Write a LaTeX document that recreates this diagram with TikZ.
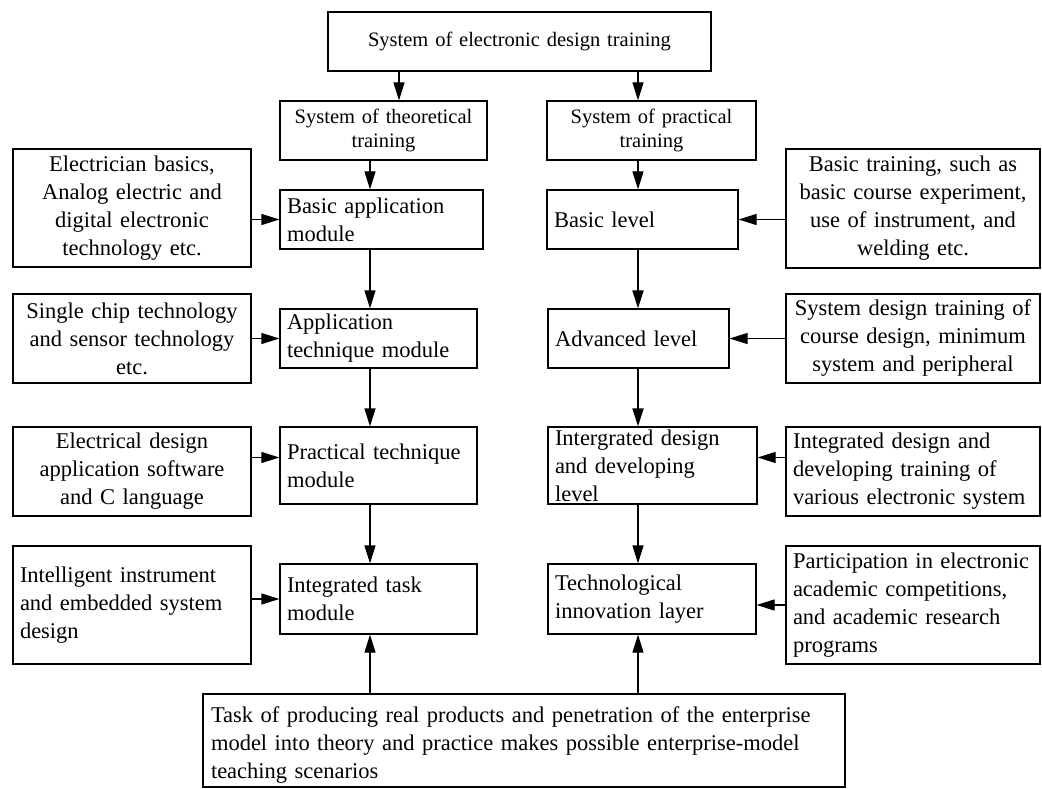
\documentclass[tikz,border=0pt]{standalone}
\usepackage{fontspec}
\setmainfont{Liberation Serif}
\usetikzlibrary{arrows.meta}
\begin{document}
\begin{tikzpicture}[x=1pt,y=-1pt,
  box/.style={draw, line width=1.2pt, inner xsep=7pt, inner ysep=0pt, font=\fontsize{22.5}{28}\selectfont},
  sbox/.style={box, font=\fontsize{20.5}{24.5}\selectfont, align=center},
  arr/.style={line width=1.2pt, -{Triangle[length=18pt,width=11pt]}},
  thick arr/.style={arr, line width=1.9pt},
]
\useasboundingbox (0,0) rectangle (1042,789);
\coordinate (colL) at (370,0);
\coordinate (colR) at (638,0);

% top and system boxes
\node[sbox, minimum width=383pt, minimum height=59pt, text width=369pt] (top) at (519.5,41.5) {System of electronic design training};
\node[sbox, minimum width=207pt, minimum height=59pt, text width=193pt] (theo) at (383.5,130.5) {System of theoretical\\training};
\node[sbox, minimum width=209pt, minimum height=59pt, text width=195pt] (prac) at (651.5,130.5) {System of practical\\training};

% left column modules
\node[box, align=left, minimum width=203pt, minimum height=59pt, text width=189pt] (basicapp) at (381.5,219.5) {Basic application\\module};
\node[box, align=left, minimum width=197pt, minimum height=59pt, text width=183pt] (apptech) at (378.5,338.5) {Application\\technique module};
\node[box, align=left, minimum width=197pt, minimum height=77pt, text width=183pt] (practech) at (378.5,465.5) {Practical technique\\module};
\node[box, align=left, minimum width=197pt, minimum height=70pt, text width=183pt] (inttask) at (378.5,599) {Integrated task\\module};

% left side inputs
\node[box, align=center, minimum width=238pt, minimum height=118pt, text width=224pt] (elec) at (132,208) {Electrician basics,\\Analog electric and\\digital electronic\\technology etc.};
\node[box, align=center, minimum width=238pt, minimum height=89pt, text width=224pt] (single) at (132,338.5) {Single chip technology\\and sensor technology\\etc.};
\node[box, align=center, minimum width=238pt, minimum height=89pt, text width=224pt] (elecdes) at (132,471.5) {Electrical design\\application software\\and C language};
\node[box, align=left, minimum width=238pt, minimum height=118pt, text width=224pt] (intell) at (132,605) {Intelligent instrument\\and embedded system\\design};

% right column levels
\node[box, align=left, minimum width=191pt, minimum height=59pt, text width=177pt] (basiclevel) at (642.5,219.5) {Basic level};
\node[box, align=left, minimum width=181pt, minimum height=59pt, text width=167pt] (adv) at (638.5,338.5) {Advanced level};
\node[box, align=left, minimum width=209pt, minimum height=77pt, text width=195pt] (intdev) at (652.5,465.5) {Intergrated design\\and developing\\level};
\node[box, align=left, minimum width=208pt, minimum height=70pt, text width=194pt] (techinn) at (652,599) {Technological\\innovation layer};

% right side inputs
\node[box, align=center, minimum width=254pt, minimum height=119pt, text width=240pt] (basictrain) at (913,208.5) {Basic training, such as\\basic course experiment,\\use of instrument, and\\welding etc.};
\node[box, align=center, minimum width=254pt, minimum height=89pt, text width=240pt] (sysdes) at (913,338.5) {\mbox{System design training of}\\course design, minimum\\system and peripheral};
\node[box, align=left, minimum width=254pt, minimum height=89pt, text width=240pt] (intdes) at (913,471.5) {Integrated design and\\developing training of\\\mbox{various electronic system}};
\node[box, align=left, minimum width=254pt, minimum height=118pt, text width=240pt] (partic) at (913,605) {\mbox{Participation in electronic}\\academic competitions,\\and academic research\\programs};

% bottom
\node[box, align=left, minimum width=642pt, minimum height=93pt, text width=626pt] (bot) at (524,740.5) {\rule{0pt}{25.5pt}Task of producing real products and penetration of the enterprise\\model into theory and practice makes possible enterprise-model\\teaching scenarios};

% helper points
\coordinate (ptin) at ([yshift=8pt]practech.west);
\coordinate (idin) at ([yshift=8pt]intdev.east);

% connectors
\draw[arr] ([xshift=-120.5pt]top.south) -- ([xshift=-120.5pt]top.south |- theo.north);
\draw[arr] ([xshift=118.5pt]top.south) -- ([xshift=118.5pt]top.south |- prac.north);

\draw[arr] (theo.south -| colL) -- (basicapp.north -| colL);
\draw[arr] (basicapp.south -| colL) -- (apptech.north -| colL);
\draw[arr] (apptech.south -| colL) -- (practech.north -| colL);
\draw[arr] (practech.south -| colL) -- (inttask.north -| colL);
\draw[arr] (bot.north -| colL) -- (inttask.south -| colL);

\draw[arr] (prac.south -| colR) -- (basiclevel.north -| colR);
\draw[thick arr] (basiclevel.south -| colR) -- (adv.north -| colR);
\draw[thick arr] (adv.south -| colR) -- (intdev.north -| colR);
\draw[arr] (intdev.south -| colR) -- (techinn.north -| colR);
\draw[arr] (bot.north -| colR) -- (techinn.south -| colR);

\draw[arr] (elec.east |- basicapp.west) -- (basicapp.west);
\draw[arr] (single.east |- apptech.west) -- (apptech.west);
\draw[arr] (elecdes.east |- ptin) -- (ptin);
\draw[arr] (intell.east |- inttask.west) -- (inttask.west);

\draw[arr] (basictrain.west |- basiclevel.east) -- (basiclevel.east);
\draw[arr] (sysdes.west |- adv.east) -- (adv.east);
\draw[arr] (intdes.west |- idin) -- (idin);
\draw[arr] (partic.west) -- (partic.west -| techinn.east);
\end{tikzpicture}
\end{document}
